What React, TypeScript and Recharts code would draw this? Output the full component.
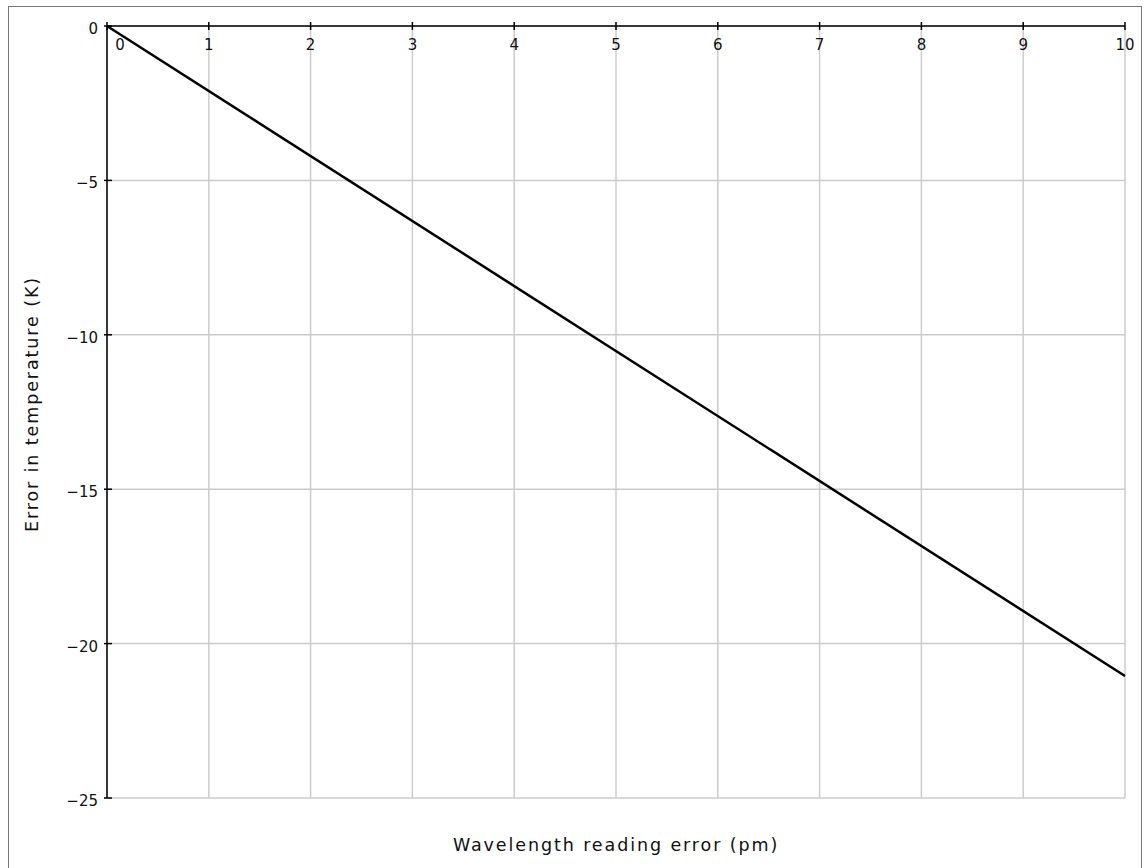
import { CartesianGrid, Line, LineChart, XAxis, YAxis } from 'recharts';

const wavelengthError = [0, 10];
const temperatureError = [0, -21.05];
const xTicks = [0, 1, 2, 3, 4, 5, 6, 7, 8, 9, 10];
const yTicks = [0, -5, -10, -15, -20, -25];

const data = wavelengthError.map((x, i) => ({ x, y: temperatureError[i] }));

const FONT = '"DejaVu Sans", Verdana, sans-serif';

// x ticks hang below the top axis; the 0 label is nudged right so it clears the y axis
const XTick = ({ x, y, payload }: any) => {
  const shift = payload.value === 0 ? 13 : 0;
  return (
    <g>
      <line x1={x} y1={y - 4} x2={x} y2={y + 4} stroke="#000" strokeWidth={1.5} />
      <text
        x={x + shift}
        y={y + 24}
        textAnchor="middle"
        fontSize={15}
        fontFamily={FONT}
        fill="#111"
      >
        {payload.value}
      </text>
    </g>
  );
};

const YTick = ({ x, y, payload }: any) => (
  <g>
    <line x1={x - 3} y1={y} x2={x + 5} y2={y} stroke="#000" strokeWidth={1.5} />
    <text
      x={x - 9}
      y={y + 8}
      textAnchor="end"
      fontSize={15}
      fontFamily={FONT}
      fill="#111"
    >
      {String(payload.value).replace('-', '\u2212')}
    </text>
  </g>
);

const titleStyle = {
  fontFamily: FONT,
  fontSize: 17.5,
  letterSpacing: 1.9,
  color: '#111',
  whiteSpace: 'nowrap' as const,
};

export default function App() {
  return (
    <div
      style={{
        position: 'fixed',
        left: 8,
        top: 6,
        width: 1132,
        height: 900,
        border: '1px solid #777',
        background: '#fff',
      }}
    >
      <LineChart
        width={1132}
        height={870}
        data={data}
        margin={{ top: 0, right: 16, bottom: 79, left: 38 }}
      >
        <CartesianGrid stroke="#ccc" strokeWidth={1.5} />
        <XAxis
          type="number"
          dataKey="x"
          orientation="top"
          domain={[0, 10]}
          ticks={xTicks}
          height={19}
          tickSize={0}
          tickMargin={0}
          axisLine={{ stroke: '#000', strokeWidth: 1.5 }}
          tickLine={false}
          tick={<XTick />}
          interval={0}
        />
        <YAxis
          type="number"
          dataKey="y"
          domain={[-25, 0]}
          ticks={yTicks}
          width={60}
          tickSize={0}
          tickMargin={0}
          axisLine={{ stroke: '#000', strokeWidth: 1.5 }}
          tickLine={false}
          tick={<YTick />}
          interval={0}
        />
        <Line
          type="linear"
          dataKey="y"
          stroke="#000"
          strokeWidth={2.5}
          dot={false}
          isAnimationActive={false}
        />
      </LineChart>
      <div
        style={{
          ...titleStyle,
          position: 'absolute',
          left: 98,
          width: 1018,
          top: 828,
          textAlign: 'center',
        }}
      >
        Wavelength reading error (pm)
      </div>
      <div style={{ position: 'absolute', left: 23, top: 397, width: 0, height: 0 }}>
        <div
          style={{
            ...titleStyle,
            position: 'absolute',
            transform: 'translate(-50%, -50%) rotate(-90deg)',
          }}
        >
          Error in temperature (K)
        </div>
      </div>
    </div>
  );
}
